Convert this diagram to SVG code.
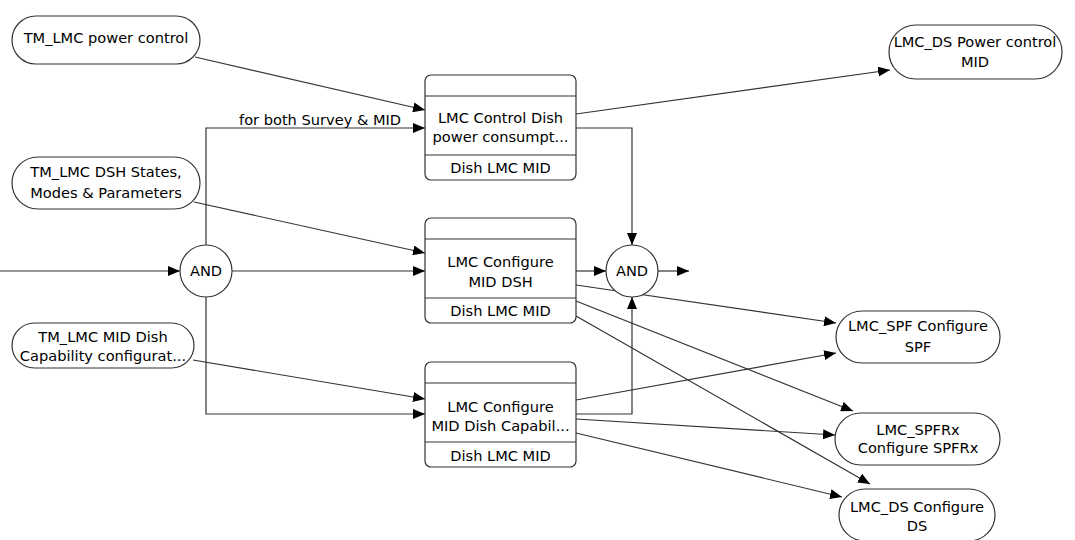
<svg xmlns="http://www.w3.org/2000/svg" width="1075" height="540" viewBox="0 0 1075 540">
<defs>
<style>
.n{fill:#fff;stroke:#333;stroke-width:1.2}
.d{stroke:#333;stroke-width:1.2;fill:none}
.t{font-family:"DejaVu Sans",Verdana,sans-serif;font-size:14.6px;fill:#000;text-anchor:middle}
.c{fill:none;stroke:#333;stroke-width:1.2;marker-end:url(#ah)}
.p{fill:none;stroke:#333;stroke-width:1.2}
</style>
<marker id="ah" viewBox="0 0 12 10" refX="12" refY="5" markerWidth="12" markerHeight="10" markerUnits="userSpaceOnUse" orient="auto">
<path d="M0,0 L12,5 L0,10 Z" fill="#000"/>
</marker>
</defs>
<rect width="1075" height="540" fill="#fff"/>
<g id="connectors">
<path class="c" d="M195,57 L425,110"/>
<path class="c" d="M194,202 L425,253"/>
<path class="c" d="M193,360 L425,399"/>
<path class="c" d="M0,271 L180,271"/>
<path class="c" d="M206,245 V128 H425"/>
<path class="c" d="M232,271 H425"/>
<path class="c" d="M206,297 V414 H425"/>
<path class="c" d="M576,128 H632 V245"/>
<path class="c" d="M576,414 H632 V297"/>
<path class="c" d="M576,271 H606"/>
<path class="c" d="M658,271 H689"/>
<path class="c" d="M576,114 L890,70"/>
<path class="c" d="M576,285 L836,323"/>
<path class="c" d="M576,301 L853,411"/>
<path class="c" d="M576,316 L870,484"/>
<path class="c" d="M576,400 L836,353"/>
<path class="c" d="M576,419 L835,435"/>
<path class="c" d="M576,433 L842,497"/>
<text class="t" x="239" y="125" style="text-anchor:start">for both Survey &amp; MID</text>
</g>
<g id="tm_power">
<rect class="n" x="12" y="16" width="188" height="48" rx="24"/>
<text class="t" x="106" y="43">TM_LMC power control</text>
</g>
<g id="tm_dsh">
<rect class="n" x="12" y="157" width="188" height="52" rx="26"/>
<text class="t" x="106" y="177">TM_LMC DSH States,</text>
<text class="t" x="106" y="198">Modes &amp; Parameters</text>
</g>
<g id="tm_mid">
<rect class="n" x="12" y="323" width="182" height="45" rx="22.5"/>
<text class="t" x="103" y="342">TM_LMC MID Dish</text>
<text class="t" x="103" y="361">Capability configurat...</text>
</g>
<g id="and1">
<circle class="n" cx="206" cy="271" r="26"/>
<text class="t" x="206" y="276">AND</text>
</g>
<g id="box1">
<rect class="n" x="425" y="75" width="151" height="105" rx="6"/>
<line class="d" x1="425" y1="96" x2="576" y2="96"/>
<line class="d" x1="425" y1="155" x2="576" y2="155"/>
<text class="t" x="500.5" y="123">LMC Control Dish</text>
<text class="t" x="500.5" y="142">power consumpt...</text>
<text class="t" x="500.5" y="173">Dish LMC MID</text>
</g>
<g id="box2">
<rect class="n" x="425" y="218" width="151" height="105" rx="6"/>
<line class="d" x1="425" y1="239" x2="576" y2="239"/>
<line class="d" x1="425" y1="298" x2="576" y2="298"/>
<text class="t" x="500.5" y="267">LMC Configure</text>
<text class="t" x="500.5" y="287">MID DSH</text>
<text class="t" x="500.5" y="316">Dish LMC MID</text>
</g>
<g id="box3">
<rect class="n" x="425" y="362" width="151" height="105" rx="6"/>
<line class="d" x1="425" y1="383" x2="576" y2="383"/>
<line class="d" x1="425" y1="442" x2="576" y2="442"/>
<text class="t" x="500.5" y="412">LMC Configure</text>
<text class="t" x="500.5" y="431">MID Dish Capabil...</text>
<text class="t" x="500.5" y="461">Dish LMC MID</text>
</g>
<g id="and2">
<circle class="n" cx="632" cy="271" r="26"/>
<text class="t" x="632" y="276">AND</text>
</g>
<g id="ds_power">
<rect class="n" x="889" y="25" width="173" height="54" rx="27"/>
<text class="t" x="975" y="47">LMC_DS Power control</text>
<text class="t" x="975" y="67">MID</text>
</g>
<g id="spf">
<rect class="n" x="836" y="311" width="164" height="52" rx="26"/>
<text class="t" x="918" y="331">LMC_SPF Configure</text>
<text class="t" x="918" y="352">SPF</text>
</g>
<g id="spfrx">
<rect class="n" x="835" y="413" width="165" height="52" rx="26"/>
<text class="t" x="918" y="435">LMC_SPFRx</text>
<text class="t" x="918" y="453">Configure SPFRx</text>
</g>
<g id="ds_cfg">
<rect class="n" x="839" y="489" width="156" height="52" rx="26"/>
<text class="t" x="917" y="512">LMC_DS Configure</text>
<text class="t" x="917" y="531">DS</text>
</g>
</svg>
